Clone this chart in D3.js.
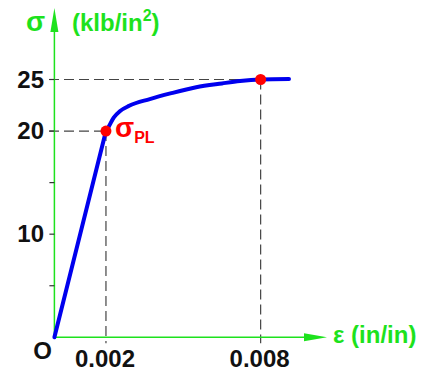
<!DOCTYPE html>
<html><head><meta charset="utf-8">
<script src="https://cdn.jsdelivr.net/npm/d3@7"></script>
<style>body{margin:0;background:#fff}svg{display:block}text{font-family:"Liberation Sans",Arial,sans-serif;font-weight:bold}</style>
</head><body><svg id="c" width="428" height="371"></svg>
<script>
const strain = [0, 0.002, 0.0021, 0.0023, 0.00255, 0.0029, 0.0037, 0.0045, 0.0055, 0.0065, 0.0072, 0.008, 0.0091];
const stress = [0, 20, 20.4, 21.3, 21.95, 22.45, 23.1, 23.65, 24.25, 24.62, 24.85, 25, 25.05];
const yTicks = [5, 10, 15, 20, 25];
const yTickLabels = [10, 20, 25];
const xTickLabels = [0.002, 0.008];
const marked = [[0.002, 20], [0.008, 25]];

const svg = d3.select("#c");
const x = d3.scaleLinear().domain([0, 0.01]).range([54.4, 312.2]);
const y = d3.scaleLinear().domain([0, 25]).range([337.3, 79.5]);
const green = "#1de21d";

// dashed guides
marked.forEach(([e, s]) => {
  svg.append("line").attr("x1", 49).attr("x2", x(e)).attr("y1", y(s)).attr("y2", y(s))
    .attr("stroke", "#444").attr("stroke-width", 1.2).attr("stroke-dasharray", "10,5");
  svg.append("line").attr("x1", x(e)).attr("x2", x(e)).attr("y1", y(s)).attr("y2", y(0) + 6)
    .attr("stroke", "#444").attr("stroke-width", 1.2).attr("stroke-dasharray", "10,5");
});

// axes
svg.append("line").attr("x1", x(0)).attr("x2", x(0)).attr("y1", y(0)).attr("y2", 30)
  .attr("stroke", green).attr("stroke-width", 1.5);
svg.append("path").attr("d", `M${x(0)},8 L${x(0)-4},32 L${x(0)+4},32 Z`).attr("fill", green);
svg.append("line").attr("x1", x(0)).attr("x2", 306).attr("y1", y(0)).attr("y2", y(0))
  .attr("stroke", green).attr("stroke-width", 1.5);
svg.append("path").attr("d", `M327,${y(0)} L304,${y(0)-4} L304,${y(0)+4} Z`).attr("fill", green);

// y ticks
svg.selectAll(".yt").data(yTicks).enter().append("line")
  .attr("x1", x(0) - 5).attr("x2", x(0)).attr("y1", d => y(d)).attr("y2", d => y(d))
  .attr("stroke", "#333").attr("stroke-width", 1.2);
svg.selectAll(".yl").data(yTickLabels).enter().append("text")
  .attr("x", 44).attr("y", d => y(d) + 8).attr("text-anchor", "end")
  .attr("font-size", 24).attr("fill", "#111").text(d => d);
svg.selectAll(".xl").data(xTickLabels).enter().append("text")
  .attr("x", d => x(d) - 1).attr("y", 367).attr("text-anchor", "middle")
  .attr("font-size", 24).attr("fill", "#111").text(d => d);
svg.append("text").attr("x", 42.5).attr("y", 359).attr("text-anchor", "middle")
  .attr("font-size", 24).attr("fill", "#111").text("O");

// axis titles
svg.append("text").attr("x", 26).attr("y", 31).attr("font-size", 28).attr("fill", green).text("σ");
const t = svg.append("text").attr("x", 72).attr("y", 31).attr("font-size", 24).attr("fill", green);
t.append("tspan").text("(klb/in");
t.append("tspan").attr("dy", -10).attr("font-size", 16).text("2");
t.append("tspan").attr("dy", 10).text(")");
svg.append("text").attr("x", 333).attr("y", 343).attr("font-size", 24).attr("fill", green).text("ε (in/in)");

// curve
const pts = strain.map((e, i) => [e, stress[i]]);
const lin = d3.line().x(d => x(d[0])).y(d => y(d[1]));
const crv = d3.line().x(d => x(d[0])).y(d => y(d[1])).curve(d3.curveMonotoneX);
svg.append("path").attr("d", lin(pts.slice(0, 2))).attr("fill", "none")
  .attr("stroke", "#0000ee").attr("stroke-width", 4).attr("stroke-linecap", "round");
svg.append("path").attr("d", crv(pts.slice(1))).attr("fill", "none")
  .attr("stroke", "#0000ee").attr("stroke-width", 4).attr("stroke-linecap", "round");

// points
svg.selectAll(".pt").data(marked).enter().append("circle")
  .attr("cx", d => x(d[0])).attr("cy", d => y(d[1])).attr("r", 5.5).attr("fill", "#ff0000");

const pl = svg.append("text").attr("x", 115).attr("y", 136.7).attr("fill", "#ff0000").attr("font-size", 28);
pl.append("tspan").text("σ");
pl.append("tspan").attr("dy", 6.6).attr("font-size", 16).text("PL");
</script></body></html>
